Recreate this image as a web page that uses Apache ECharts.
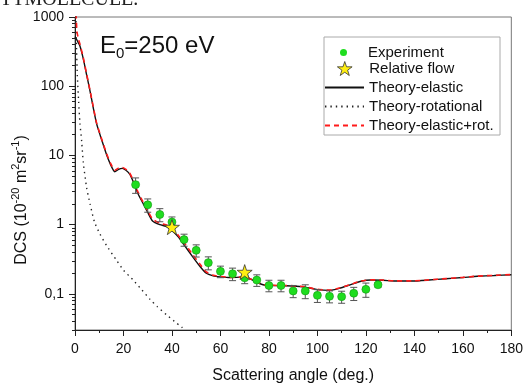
<!DOCTYPE html>
<html>
<head>
<meta charset="utf-8">
<script src="https://cdn.jsdelivr.net/npm/echarts@6/dist/echarts.min.js"></script>
<style>
  html, body { margin: 0; padding: 0; background: #fff; }
  #chart { width: 526px; height: 389px; }
</style>
</head>
<body>
<div id="chart"></div>
<script>
// experiment (green circles) with error bars
const expAngle = [25, 30, 35, 40, 45, 50, 55, 60, 65, 70, 75, 80, 85, 90, 95, 100, 105, 110, 115, 120, 125];
const expDcs = [3.78, 1.93, 1.40, 1.09, 0.607, 0.425, 0.282, 0.211, 0.195, 0.170, 0.158, 0.132, 0.132, 0.110, 0.110, 0.095, 0.092, 0.091, 0.102, 0.116, 0.135];
const expErr = [0.95, 0.42, 0.30, 0.20, 0.12, 0.085, 0.06, 0.04, 0.04, 0.03, 0.03, 0.025, 0.025, 0.022, 0.025, 0.02, 0.018, 0.018, 0.022, 0.027, 0.01];

// relative flow (stars)
const starAngle = [40, 70];
const starDcs = [0.92, 0.206];

// theory curves
const elAngle = [0, 1, 2, 3.4, 4.8, 6.2, 7.5, 8.9, 11, 13, 14.5, 16.4, 18, 19.5, 21, 22.5, 24, 26, 28, 30, 32, 35, 38, 40, 42.5, 45, 48.5, 51.5, 54, 57, 60, 64, 68, 70, 72, 75, 78, 84, 90, 95, 100, 105, 109, 114, 118, 122, 127, 132, 139, 146, 153, 160, 166, 173, 180];
const elDcs = [520, 450, 385, 251, 146, 85, 49.5, 28.8, 16.8, 10.3, 7.6, 5.8, 6.3, 6.5, 6.1, 5.4, 4.2, 2.8, 2.05, 1.5, 1.13, 1.0, 0.93, 0.82, 0.67, 0.51, 0.345, 0.25, 0.2, 0.182, 0.176, 0.172, 0.174, 0.176, 0.166, 0.147, 0.134, 0.131, 0.13, 0.125, 0.115, 0.112, 0.12, 0.137, 0.152, 0.158, 0.157, 0.153, 0.153, 0.158, 0.165, 0.172, 0.179, 0.184, 0.189];

const rotAngle = [0.3, 0.6, 0.95, 1.5, 2.05, 2.75, 3.4, 4.8, 6.2, 8, 10.3, 13, 17, 20, 24, 27, 31, 34, 37.7, 41, 44, 46];
const rotDcs = [1500, 400, 146, 60, 29, 16, 8, 3.4, 2.0, 1.1, 0.73, 0.5, 0.31, 0.22, 0.158, 0.12, 0.083, 0.065, 0.05, 0.04, 0.033, 0.029];

const sumAngle = [0, 0.4, 0.8, 1.5, 2, 3.4, 4.8, 6.2, 7.5, 8.9, 11, 13, 14.5, 16.4, 18, 19.5, 21, 22.5, 24, 26, 28, 30, 32, 35, 38, 40, 42.5, 45, 48.5, 51.5, 54, 57, 60, 64, 68, 70, 72, 75, 78, 84, 90, 95, 100, 105, 109, 114, 118, 122, 127, 132, 139, 146, 153, 160, 166, 173, 180];
const sumDcs = [5000, 1300, 620, 470, 410, 260, 150, 87, 51, 29.5, 17.3, 10.7, 7.9, 6.1, 6.6, 6.7, 6.3, 5.6, 4.4, 2.95, 2.15, 1.58, 1.2, 1.05, 0.98, 0.87, 0.71, 0.55, 0.37, 0.27, 0.21, 0.186, 0.178, 0.173, 0.175, 0.177, 0.167, 0.148, 0.135, 0.132, 0.131, 0.126, 0.116, 0.113, 0.121, 0.138, 0.153, 0.159, 0.158, 0.154, 0.154, 0.159, 0.166, 0.173, 0.18, 0.185, 0.19];

// axis ticks
const xTicks = [0, 20, 40, 60, 80, 100, 120, 140, 160, 180];
const yMajor = [0.1, 1, 10, 100, 1000];
const yMinor = [];
[0.01, 0.1, 1, 10, 100].forEach((d) => {
  for (let k = 2; k <= 9; k++) {
    const v = +(d * k).toPrecision(3);
    if (v >= 0.03 && v <= 1000) yMinor.push(v);
  }
});

const FONT = "Liberation Sans";
const STAR = "path://M50,0 L61.8,35.1 L98.9,35.5 L69.1,57.6 L80.2,93 L50,71.5 L19.8,93 L30.9,57.6 L1.1,35.5 L38.2,35.1 Z";
const pairs = (xs, ys) => xs.map((x, i) => [x, ys[i]]);

const chart = echarts.init(document.getElementById("chart"));

const legendBase = {
  left: 324,
  padding: 0,
  itemWidth: 39,
  itemHeight: 14,
  selectedMode: false,
  textStyle: { fontFamily: FONT, fontSize: 15, color: "#111" },
};

chart.setOption({
  animation: false,
  backgroundColor: "#fff",
  grid: { left: 75, right: 13, top: 17, bottom: 51, show: true, borderColor: "#777", borderWidth: 1 },
  legend: [
    {
      ...legendBase,
      left: 340,
      top: 45,
      itemHeight: 7,
      data: [{ name: "Experiment", icon: "circle", itemStyle: { color: "#1fdd1f", borderWidth: 0 } }],
    },
    {
      ...legendBase,
      left: 337,
      top: 61,
      data: [{ name: "Relative flow", icon: STAR, itemStyle: { color: "#ffee11", borderColor: "#333", borderWidth: 0.8 } }],
    },
    { ...legendBase, top: 80, itemStyle: { opacity: 0 }, data: ["Theory-elastic"] },
    { ...legendBase, top: 99, itemStyle: { opacity: 0 }, data: ["Theory-rotational"] },
    { ...legendBase, top: 118, itemStyle: { opacity: 0 }, data: ["Theory-elastic+rot."] },
  ],
  xAxis: {
    type: "value",
    min: 0,
    max: 180,
    interval: 20,
    name: "Scattering angle (deg.)",
    nameLocation: "middle",
    nameGap: 38,
    nameTextStyle: { fontFamily: FONT, fontSize: 16, color: "#111" },
    axisLine: { lineStyle: { color: "#222", width: 1 } },
    axisTick: { length: 6, lineStyle: { color: "#222" } },
    minorTick: { show: true, splitNumber: 2, length: 3, lineStyle: { color: "#222" } },
    splitLine: { show: false },
    axisLabel: {
      fontFamily: FONT,
      fontSize: 14,
      color: "#111",
      margin: 12,
      formatter: (v) => (xTicks.includes(v) ? String(v) : ""),
    },
  },
  yAxis: [
    {
      type: "log",
      logBase: 10,
      min: 0.03,
      max: 1000,
      axisLine: { show: true, lineStyle: { color: "#222", width: 1 } },
      axisTick: { show: true, length: 6, customValues: yMajor, lineStyle: { color: "#222" } },
      axisLabel: {
        customValues: yMajor,
        fontFamily: FONT,
        fontSize: 14,
        color: "#111",
        margin: 11,
        formatter: (v) => String(v).replace(".", ","),
      },
      splitLine: { show: false },
    },
    {
      type: "log",
      logBase: 10,
      min: 0.03,
      max: 1000,
      position: "left",
      axisLine: { show: false },
      axisTick: { show: true, length: 3, customValues: yMinor, lineStyle: { color: "#222" } },
      axisLabel: { show: false },
      splitLine: { show: false },
    },
  ],
  graphic: [
    {
      type: "text",
      left: 0,
      top: -10,
      style: { text: "TTMOLECULE.", fontFamily: "Liberation Serif", fontSize: 20, fill: "#222" },
    },
    {
      type: "rect",
      shape: { x: 324, y: 37, width: 176, height: 98 },
      style: { fill: "#fff", stroke: "#aaa", lineWidth: 1 },
      z: 1,
    },
    {
      type: "text",
      x: 100,
      y: 32,
      style: {
        text: "{a|E}{b|0}{a|=250 eV}",
        rich: {
          a: { fontFamily: FONT, fontSize: 24, lineHeight: 26, fill: "#111", verticalAlign: "bottom" },
          b: { fontFamily: FONT, fontSize: 15, lineHeight: 15, fill: "#111", verticalAlign: "bottom", padding: [0, 0, -3, 0] },
        },
      },
    },
    {
      type: "text",
      x: 20,
      y: 200,
      rotation: Math.PI / 2,
      style: {
        text: "{a|DCS (10}{s|-20}{a| m}{s|2}{a|sr}{s|-1}{a|)}",
        align: "center",
        verticalAlign: "middle",
        rich: {
          a: { fontFamily: FONT, fontSize: 16, lineHeight: 20, fill: "#111", verticalAlign: "bottom" },
          s: { fontFamily: FONT, fontSize: 11, lineHeight: 20, fill: "#111", verticalAlign: "top" },
        },
      },
    },
  ],
  series: [
    {
      name: "Theory-elastic",
      type: "line",
      data: pairs(elAngle, elDcs),
      showSymbol: false,
      symbol: "none",
      smooth: 0.2,
      lineStyle: { color: "#111", width: 1.4 },
      itemStyle: { color: "#111" },
      z: 2,
    },
    {
      name: "Theory-rotational",
      type: "line",
      data: pairs(rotAngle, rotDcs),
      showSymbol: false,
      symbol: "none",
      smooth: 0.2,
      lineStyle: { color: "#222", width: 1.4, type: [1.4, 4] },
      itemStyle: { color: "#222" },
      z: 2,
    },
    {
      name: "Theory-elastic+rot.",
      type: "line",
      data: pairs(sumAngle, sumDcs),
      showSymbol: false,
      symbol: "none",
      smooth: 0.2,
      lineStyle: { color: "#ff1a1a", width: 1.6, type: [5, 4] },
      itemStyle: { color: "#ff1a1a" },
      z: 3,
    },
    {
      name: "errors",
      type: "custom",
      data: expAngle.map((a, i) => [a, expDcs[i], expErr[i]]),
      encode: { x: 0, y: 1 },
      renderItem: (params, api) => {
        const x = api.value(0);
        const y = api.value(1);
        const e = api.value(2);
        const hi = api.coord([x, y + e]);
        const lo = api.coord([x, y - e]);
        const w = 3.5;
        const st = { stroke: "#555", lineWidth: 1 };
        return {
          type: "group",
          children: [
            { type: "line", shape: { x1: hi[0], y1: hi[1], x2: lo[0], y2: lo[1] }, style: st },
            { type: "line", shape: { x1: hi[0] - w, y1: hi[1], x2: hi[0] + w, y2: hi[1] }, style: st },
            { type: "line", shape: { x1: lo[0] - w, y1: lo[1], x2: lo[0] + w, y2: lo[1] }, style: st },
          ],
        };
      },
      z: 4,
    },
    {
      name: "Experiment",
      type: "scatter",
      data: pairs(expAngle, expDcs),
      symbol: "circle",
      symbolSize: 8,
      itemStyle: { color: "#1fdd1f", borderColor: "#119911", borderWidth: 0.6, opacity: 1 },
      z: 5,
    },
    {
      name: "Relative flow",
      type: "scatter",
      data: pairs(starAngle, starDcs),
      symbol: STAR,
      symbolSize: 15,
      itemStyle: { color: "#ffee11", borderColor: "#333", borderWidth: 0.8, opacity: 1 },
      z: 6,
    },
  ],
});
</script>
</body>
</html>
